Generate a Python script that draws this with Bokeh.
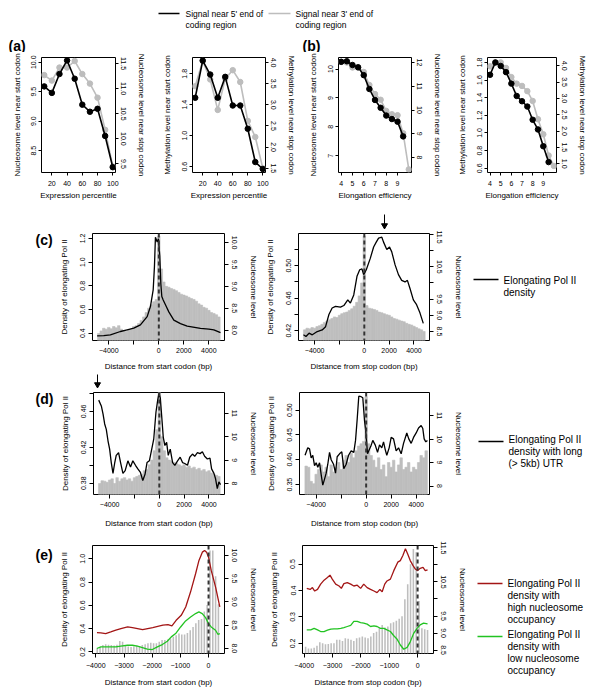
from bokeh.plotting import figure
from bokeh.models import Range1d, LinearAxis, FixedTicker, Span, Label, PrintfTickFormatter
from bokeh.layouts import column, row
from bokeh.embed import file_html
from bokeh.resources import INLINE

FONT = "Liberation Sans"
GRAY_LINE = "#bdbdbd"
BAR = "#bebebe"
RED = "#a31515"
GREEN = "#22c322"

# ---------------- data ----------------
# (a) expression percentile
expr_pct = [10, 20, 30, 40, 50, 60, 70, 80, 90, 100]
a_nuc_start = [9.59, 9.48, 9.80, 10.03, 9.72, 9.28, 9.16, 9.21, 8.75, 8.22]
a_nuc_stop = [11.27, 11.16, 11.42, 11.42, 11.55, 11.29, 11.10, 10.82, 10.18, 9.45]
a_meth_start = [1.49, 1.97, 1.79, 1.49, 1.76, 1.39, 1.39, 1.09, 0.66, 0.57]
a_meth_stop = [3.44, 4.04, 3.60, 2.88, 3.62, 3.82, 3.54, 2.62, 2.24, 1.50]

# (b) elongation efficiency
elong_eff = [4.0, 4.5, 5.0, 5.5, 6.0, 6.5, 7.0, 7.5, 8.0, 8.5, 9.0, 9.5, 10.0]
b_nuc_start = [10.25, 10.27, 10.14, 10.06, 9.79, 9.31, 8.93, 8.66, 8.39, 8.27, 8.18, 7.67]
b_nuc_stop = [12.03, 12.0, 11.79, 11.79, 11.6, 11.05, 10.67, 10.43, 9.96, 9.82, 9.78, 9.02, 7.5]
b_meth_start = [1.66, 1.80, 1.76, 1.69, 1.56, 1.42, 1.36, 1.30, 1.15, 1.04, 0.85, 0.67]
b_meth_stop = [3.98, 4.10, 4.10, 3.93, 3.65, 3.45, 3.38, 3.22, 2.92, 2.36, 1.90, 1.25, 0.93]

# nucleosome bins (c, d)
nuc_bp = list(range(-4800, 4801, 200))
c1_nuc = [7.92, 7.98, 8.04, 8.02, 8.06, 8.03, 8.08, 8.05, 8.10, 8.02, 7.98, 7.97,
          8.00, 8.02, 8.08, 8.10, 8.15, 8.22, 8.30, 8.40, 8.50, 8.58, 8.65, 8.70,
          10.15,
          9.40, 9.10, 9.00, 8.98, 8.95, 8.93, 8.90, 8.86, 8.82, 8.80, 8.78, 8.75,
          8.72, 8.70, 8.66, 8.60, 8.57, 8.52, 8.50, 8.45, 8.40, 8.38, 8.35, 8.30]
c2_nuc = [8.55, 8.60, 8.58, 8.62, 8.60, 8.65, 8.68, 8.72, 8.78, 8.82, 8.86, 8.90,
          8.95, 8.93, 9.00, 9.05, 9.08, 9.10, 9.15, 9.20, 9.28, 9.40, 9.60, 10.00,
          11.45,
          9.30, 9.22, 9.20, 9.18, 9.15, 9.10, 9.08, 9.05, 9.02, 9.00, 8.95, 8.90,
          8.88, 8.85, 8.82, 8.80, 8.75, 8.72, 8.70, 8.66, 8.62, 8.58, 8.55, 8.50]
d1_nuc = [8.00, 8.12, 8.10, 8.05, 8.15, 8.20, 8.00, 8.25, 8.10, 8.20, 8.25, 8.15,
          8.20, 8.10, 8.25, 8.30, 8.35, 8.40, 8.55, 8.60, 8.80, 9.00, 9.40, 10.30,
          11.90,
          10.00, 9.40, 9.10, 9.00, 8.95, 8.90, 8.85, 8.80, 8.75, 8.80, 8.70, 8.75,
          8.65, 8.70, 8.60, 8.65, 8.55, 8.60, 8.50, 8.55, 8.45, 8.40, 8.35, 8.30]
d2_nuc = [8.85, 8.80, 8.20, 8.10, 8.50, 8.70, 8.90, 8.60, 8.80, 8.40, 8.90, 8.60,
          8.80, 9.00, 8.70, 9.10, 9.30, 9.00, 9.40, 9.20, 9.50, 9.70, 9.80, 9.90,
          11.80,
          9.80, 9.30, 9.10, 8.80, 9.20, 8.70, 8.90, 8.40, 9.00, 8.80, 9.10, 8.60,
          8.90, 9.20, 8.70, 8.80, 9.00, 8.60, 8.80, 8.70, 9.00, 9.30, 9.20, 9.50]

# (c) elongating Pol II density
c1_pol_bp = [-4930, -4400, -3870, -3070, -2530, -2000, -1470, -930, -670, -450, -350,
             -270, -130, -30, 80, 160, 240, 350, 530, 800, 1200, 1730, 2270, 3330,
             4000, 4400, 4930]
c1_pol = [0.377, 0.379, 0.386, 0.414, 0.428, 0.442, 0.47, 0.54, 0.625, 0.766, 0.96,
          1.21, 1.17, 1.197, 1.05, 0.82, 0.71, 0.68, 0.64, 0.58, 0.51, 0.48, 0.46, 0.44,
          0.434, 0.428, 0.405]
c2_pol_bp = [-4900, -4700, -4450, -4190, -3790, -3390, -3120, -2850, -2590, -2320,
             -1920, -1650, -1330, -1120, -850, -590, -370, -190, -50, 160, 480, 750,
             960, 1150, 1410, 1550, 1810, 2030, 2210, 2480, 2750, 3010, 3280, 3470,
             3680, 3950, 4210, 4480, 4750]
c2_pol = [0.415, 0.413, 0.417, 0.415, 0.419, 0.421, 0.425, 0.440, 0.448, 0.450,
          0.449, 0.451, 0.458, 0.454, 0.464, 0.487, 0.495, 0.496, 0.489, 0.495, 0.509,
          0.523, 0.529, 0.534, 0.535, 0.529, 0.520, 0.523, 0.517, 0.501, 0.489, 0.482,
          0.480, 0.482, 0.472, 0.458, 0.452, 0.442, 0.429]

# (d) long UTR genes
d1_pol_bp = [-4880, -4670, -4530, -4400, -4270, -4130, -4000, -3870, -3730, -3600,
             -3470, -3280, -3120, -2930, -2750, -2530, -2320, -2130, -1920, -1730,
             -1520, -1330, -1150, -990, -800, -610, -450, -270, -130, -30,
             80, 190, 320, 450, 590, 720, 880, 1070, 1250, 1470,
             1680, 1870, 2050, 2270, 2450, 2670, 2850, 3070, 3280, 3470,
             3650, 3870, 4080, 4210, 4400, 4530, 4670, 4800, 4930]
d1_pol = [0.4725, 0.466, 0.457, 0.446, 0.44, 0.427, 0.418, 0.403, 0.391, 0.402,
          0.411, 0.414, 0.403, 0.391, 0.394, 0.405, 0.398, 0.405, 0.40, 0.396,
          0.392, 0.383, 0.39, 0.403, 0.405, 0.418, 0.429, 0.459, 0.4725, 0.48,
          0.475, 0.455, 0.431, 0.422, 0.4255, 0.411, 0.418, 0.403, 0.40, 0.405,
          0.409, 0.403, 0.402, 0.40, 0.409, 0.4125, 0.41, 0.414, 0.413, 0.415,
          0.41, 0.407, 0.408, 0.396, 0.391, 0.385, 0.374, 0.3815, 0.3785]
d2_pol_bp = [-4890, -4670, -4530, -4400, -4270, -4130, -4000, -3870, -3730, -3600,
             -3470, -3330, -3200, -3070, -2930, -2800, -2610, -2450, -2320, -2130,
             -1950, -1790, -1600, -1410, -1200, -990, -850, -720, -590, -400,
             -270, -130, -30, 110, 210, 370, 530, 720, 910, 1070,
             1250, 1390, 1520, 1650, 1840, 2000, 2190, 2400, 2590, 2800,
             2990, 3250, 3410, 3600, 3790, 4000, 4190, 4400, 4530, 4640, 4770, 4900]
d2_pol = [0.409, 0.424, 0.422, 0.404, 0.409, 0.388, 0.394, 0.385, 0.394, 0.370,
          0.349, 0.361, 0.373, 0.391, 0.415, 0.400, 0.391, 0.373, 0.406, 0.412,
          0.416, 0.382, 0.391, 0.409, 0.418, 0.415, 0.439, 0.481, 0.528, 0.527,
          0.525, 0.478, 0.457, 0.412, 0.418, 0.427, 0.439, 0.430, 0.415, 0.430,
          0.424, 0.436, 0.421, 0.409, 0.424, 0.445, 0.442, 0.418, 0.424, 0.412,
          0.433, 0.454, 0.442, 0.433, 0.445, 0.454, 0.464, 0.469, 0.463, 0.442, 0.436, 0.439]

# (e) high / low nucleosome occupancy
e_nuc_bp = list(range(-3950, 351, 100))
e1_nuc = [8.00, 8.03, 8.07, 8.09, 8.08, 8.07, 8.06, 8.08, 8.16, 8.14,
          8.06, 8.04, 8.03, 8.04, 8.06, 8.05, 8.07, 8.09, 8.11, 8.12,
          8.11, 8.11, 8.14, 8.18, 8.18, 8.19, 8.21, 8.25, 8.28, 8.32,
          8.30, 8.30, 8.33, 8.39, 8.46, 8.54, 8.61, 8.63, 8.79, 8.93,
          10.10, 10.10, 9.55, 8.95]
e2_nuc = [8.60, 8.55, 8.55, 8.57, 8.63, 8.73, 8.70, 8.67, 8.68, 8.70,
          8.70, 8.80, 8.80, 8.77, 8.85, 8.83, 8.80, 8.77, 8.85, 8.87,
          8.90, 8.87, 8.85, 8.90, 9.00, 9.04, 9.14, 9.24, 9.16, 9.19,
          9.29, 9.32, 9.36, 9.42, 9.49, 9.99, 10.43, 11.02, 11.47, 11.37,
          9.94, 9.14, 9.11, 9.09]
e1_high_bp = [-3960, -3820, -3650, -3470, -3290, -3110, -2870, -2700, -2520, -2340,
              -2160, -1980, -1800, -1620, -1440, -1300, -1150, -970, -810, -640,
              -460, -340, -220, -140, -70, 0, 95, 250, 400]
e1_high = [0.366, 0.363, 0.357, 0.371, 0.386, 0.400, 0.414, 0.409, 0.400, 0.391,
           0.400, 0.409, 0.420, 0.429, 0.434, 0.423, 0.471, 0.514, 0.586, 0.714,
           0.871, 0.986, 1.057, 1.071, 1.057, 1.014, 0.900, 0.757, 0.586]
e1_low_bp = [-3965, -3823, -3646, -3469, -3292, -3115, -2879, -2702, -2525, -2348,
             -2171, -1994, -1817, -1640, -1463, -1322, -1168, -991, -814, -637,
             -460, -342, -224, -106, 0, 94, 248, 330, 401]
e1_low = [0.229, 0.243, 0.243, 0.243, 0.243, 0.249, 0.257, 0.257, 0.249, 0.237,
          0.223, 0.220, 0.243, 0.263, 0.291, 0.329, 0.357, 0.414, 0.466, 0.500,
          0.529, 0.543, 0.529, 0.494, 0.443, 0.414, 0.386, 0.351, 0.357]
e2_high_bp = [-3910, -3790, -3710, -3630, -3530, -3420, -3300, -3180, -3090, -3010,
              -2890, -2770, -2690, -2600, -2480, -2360, -2250, -2130, -2010, -1900,
              -1780, -1660, -1540, -1430, -1330, -1250, -1160, -1080, -960, -840,
              -700, -610, -520, -430, -350, -260, -160, -80, 0, 90, 190, 270, 350]
e2_high = [0.408, 0.404, 0.411, 0.398, 0.404, 0.424, 0.439, 0.449, 0.458, 0.443,
           0.424, 0.417, 0.408, 0.426, 0.430, 0.424, 0.417, 0.420, 0.408, 0.424,
           0.411, 0.404, 0.398, 0.392, 0.404, 0.395, 0.424, 0.436, 0.443, 0.475,
           0.507, 0.513, 0.532, 0.558, 0.538, 0.513, 0.494, 0.481, 0.475, 0.484,
           0.487, 0.475, 0.478]
e2_low_bp = [-3910, -3770, -3650, -3530, -3420, -3300, -3180, -3060, -2950, -2830,
             -2710, -2600, -2480, -2360, -2250, -2130, -2010, -1900, -1780, -1660,
             -1540, -1430, -1310, -1190, -1080, -960, -840, -730, -610, -490,
             -370, -260, -140, -20, 90, 210, 350]
e2_low = [0.251, 0.251, 0.257, 0.251, 0.245, 0.245, 0.250, 0.254, 0.255, 0.255,
          0.257, 0.260, 0.264, 0.268, 0.283, 0.283, 0.279, 0.277, 0.273, 0.264,
          0.266, 0.264, 0.257, 0.257, 0.251, 0.245, 0.229, 0.217, 0.194, 0.178,
          0.185, 0.206, 0.238, 0.257, 0.270, 0.277, 0.274]

# tick values
a_x_ticks = [20, 40, 60, 80, 100]
b_x_ticks = [4, 5, 6, 7, 8, 9]
cd_x_ticks = [-4000, -2000, 0, 2000, 4000]
e_x_ticks = [-4000, -3000, -2000, -1000, 0]

# ---------------- helpers ----------------
def style_axis(ax, ticks, label, vertical, tout, std, lstd, overrides=None, fmt=None):
    ax.ticker = FixedTicker(ticks=ticks)
    if fmt:
        ax.formatter = PrintfTickFormatter(format=fmt)
    ax.axis_label = label
    ax.axis_label_text_font = FONT
    ax.axis_label_text_font_size = "8px"
    ax.axis_label_text_font_style = "normal"
    ax.axis_label_text_color = "black"
    ax.axis_label_standoff = lstd
    ax.major_label_text_font = FONT
    ax.major_label_text_font_size = "7px"
    ax.major_label_text_color = "black"
    ax.major_label_standoff = std
    ax.major_tick_out = tout
    ax.major_tick_in = 0
    ax.major_tick_line_color = "black"
    ax.minor_tick_out = 0
    ax.minor_tick_in = 0
    ax.minor_tick_line_color = None
    ax.axis_line_color = None
    if vertical:
        ax.major_label_orientation = "vertical"
    if overrides:
        ax.major_label_overrides = overrides


def dual(w, h, bl, br, bt, bb, xr, yl, yr):
    p = figure(width=w, height=h, x_range=Range1d(*xr), y_range=Range1d(*yl),
               title=None, output_backend="svg", toolbar_location=None,
               min_border_left=bl, min_border_right=br,
               min_border_top=bt, min_border_bottom=bb)
    p.grid.visible = False
    p.outline_line_color = "black"
    p.outline_line_width = 1
    p.outline_line_alpha = 1
    xax = p.below[0]
    lax = p.left[0]
    p.extra_y_ranges = {"r": Range1d(*yr)}
    rax = LinearAxis(y_range_name="r")
    p.add_layout(rax, "right")
    return p, xax, lax, rax


def blank(w, h, bt=0, bb=0):
    # local coordinates = pixels from the figure's top-left corner
    p = figure(width=w, height=h, x_range=Range1d(0, w), y_range=Range1d(h - bb, bt),
               title=None, x_axis_type=None, y_axis_type=None, output_backend="svg",
               toolbar_location=None, min_border_left=0, min_border_right=0,
               min_border_top=bt, min_border_bottom=bb)
    p.grid.visible = False
    p.outline_line_color = None
    return p


def put_text(p, x, ys, lines, size, bold=False):
    for y, t in zip(ys, lines):
        p.add_layout(Label(x=x, y=y, text=t, text_font=FONT, text_font_size=size,
                           text_baseline="middle", text_align="left", text_color="black",
                           text_font_style="bold" if bold else "normal"))


def scatter_panel(p, x, yl, yr):
    p.line(x[:len(yr)], yr, line_color=GRAY_LINE, line_width=1.6, y_range_name="r")
    p.scatter(x[:len(yr)], yr, size=5.5, fill_color=GRAY_LINE, line_color=GRAY_LINE,
              y_range_name="r")
    p.line(x[:len(yl)], yl, line_color="black", line_width=1.6)
    p.scatter(x[:len(yl)], yl, size=5.5, fill_color="black", line_color="black")


def profile_panel(p, bar_x, bar_top, bar_w, bottom, lines, solid=True):
    p.vbar(x=bar_x, top=bar_top, bottom=bottom, width=bar_w, fill_color=BAR,
           line_color=BAR if solid else None, line_width=0.6, y_range_name="r")
    p.add_layout(Span(location=0, dimension="height", line_color="#333333",
                      line_width=2, line_dash="4 3"))
    for xs, ys, col in lines:
        p.line(xs, ys, line_color=col, line_width=1.3)


F1, F2 = "%.1f", "%.2f"

# ---------------- header ----------------
header = blank(584, 44)
header.line([150, 171], [5, 5], line_color="black", line_width=1.5)
put_text(header, 177, [5, 16], ["Signal near 5' end of", "coding region"], "8.5px")
header.line([260, 282], [5, 5], line_color=GRAY_LINE, line_width=1.5)
put_text(header, 287, [5, 16], ["Signal near 3' end of", "coding region"], "8.5px")
put_text(header, 0, [37], ["(a)"], "14px", bold=True)
put_text(header, 294, [37], ["(b)"], "14px", bold=True)

# ---------------- row a/b (common top/bottom borders) ----------------
AB_T, AB_B = 5, 38
a1, xa, la, ra = dual(149, 158, 33, 42, AB_T, AB_B, (6.4, 103.6), (8.13, 10.08), (9.33, 11.62))
style_axis(xa, a_x_ticks, "Expression percentile", False, 3, 5, 2)
style_axis(la, [8.5, 9.0, 9.5, 10.0], "Nucleosome level near start codon", True, 3, 2, 7, fmt=F1)
style_axis(ra, [9.5, 10.0, 10.5, 11.0, 11.5], "Nucleosome level near stop codon", True, 3, 2, 8, fmt=F1)
scatter_panel(a1, expr_pct, a_nuc_start, a_nuc_stop)

a2, xa, la, ra = dual(143, 158, 35, 35, AB_T, AB_B, (6.4, 103.6), (0.525, 2.01), (1.4, 4.12))
style_axis(xa, a_x_ticks, "Expression percentile", False, 3, 5, 2)
style_axis(la, [0.6, 1.0, 1.4, 1.8], "Methylation level near start codon", True, 3, 2, 8, fmt=F1)
style_axis(ra, [1.5, 2.0, 2.5, 3.0, 3.5, 4.0], "Methylation level near stop codon", True, 3, 2, 8, fmt=F1)
scatter_panel(a2, expr_pct, a_meth_start, a_meth_stop)

b1, xa, la, ra = dual(147, 158, 38, 36, AB_T, AB_B, (3.76, 10.24), (6.42, 10.4), (7.37, 12.21))
style_axis(xa, b_x_ticks, "Elongation efficiency", False, 3, 5, 2)
style_axis(la, [7, 8, 9, 10], "Nucleosome level near start codon", True, 3, 2, 8)
style_axis(ra, [8, 9, 10, 11, 12], "Nucleosome level near stop codon", True, 3, 2, 8)
scatter_panel(b1, elong_eff, b_nuc_start, b_nuc_stop)

b2, xa, la, ra = dual(145, 158, 40, 36, AB_T, AB_B, (3.76, 10.24), (0.552, 1.856), (0.73, 4.25))
style_axis(xa, b_x_ticks, "Elongation efficiency", False, 3, 5, 2)
style_axis(la, [0.6, 0.8, 1.0, 1.2, 1.4, 1.6, 1.8], "Methylation level near start codon", True, 3, 2, 8, fmt=F1)
style_axis(ra, [1.0, 1.5, 2.0, 2.5, 3.0, 3.5, 4.0], "Methylation level near stop codon", True, 3, 2, 8, fmt=F1)
scatter_panel(b2, elong_eff, b_meth_start, b_meth_stop)

row_ab = row(a1, a2, b1, b2, spacing=0)

# ---------------- arrow strip above (c) ----------------
strip_c = blank(584, 20)
strip_c.segment(x0=[376], y0=[4], x1=[376], y1=[15], line_color="black", line_width=1)
strip_c.scatter(x=[376], y=[15], marker="inverted_triangle", size=6,
                fill_color="black", line_color="black")

# ---------------- row c ----------------
C_H, C_T, C_B = 143, 3, 32
lab_c = blank(47, C_H, C_T, C_B)
put_text(lab_c, 27, [10], ["(c)"], "14px", bold=True)

c1_yr = (7.76, 10.21)
c1, xa, la, ra = dual(207, C_H, 37, 38, C_T, C_B, (-5300, 5250), (0.338, 1.242), c1_yr)
style_axis(xa, cd_x_ticks, "Distance from start codon (bp)", False, 4, 3, 6, {-2000: ""})
style_axis(la, [0.4, 0.6, 0.8, 1.0, 1.2], "Density of elongating Pol II", True, 4, 3, 9, fmt=F1)
style_axis(ra, [8.0, 8.5, 9.0, 9.5, 10.0], "Nucleosome level", True, 4, 3, 9, fmt=F1)
profile_panel(c1, nuc_bp, c1_nuc, 200, c1_yr[0], [(c1_pol_bp, c1_pol, "black")])

c2_yr = (8.22, 11.53)
c2, xa, la, ra = dual(208, C_H, 35, 41, C_T, C_B, (-5300, 5250), (0.408, 0.5396), c2_yr)
style_axis(xa, cd_x_ticks, "Distance from stop codon (bp)", False, 4, 3, 6, {-2000: ""})
style_axis(la, [0.42, 0.44, 0.46, 0.48, 0.50, 0.52], "Density of elongating Pol II", True, 4, 3, 9,
           {0.44: "", 0.48: "", 0.52: ""}, fmt=F2)
style_axis(ra, [8.5, 9.0, 9.5, 10.0, 10.5, 11.0, 11.5], "Nucleosome level", True, 4, 3, 9,
           {10.0: "", 11.0: ""}, fmt=F1)
profile_panel(c2, nuc_bp, c2_nuc, 200, c2_yr[0], [(c2_pol_bp, c2_pol, "black")])

row_c = row(lab_c, c1, c2, spacing=0)

# ---------------- arrow strip above (d) ----------------
strip_d = blank(462, 16)
strip_d.segment(x0=[89], y0=[1], x1=[89], y1=[11], line_color="black", line_width=1)
strip_d.scatter(x=[89], y=[11], marker="inverted_triangle", size=6,
                fill_color="black", line_color="black")

# ---------------- row d ----------------
D_H, D_T, D_B = 141, 3, 32
lab_d = blank(47, D_H, D_T, D_B)
put_text(lab_d, 27, [10], ["(d)"], "14px", bold=True)

d1_yr = (7.53, 11.89)
d1, xa, la, ra = dual(207, D_H, 38, 38, D_T, D_B, (-5300, 5250), (0.3675, 0.481), d1_yr)
style_axis(xa, cd_x_ticks, "Distance from start codon (bp)", False, 4, 3, 9, {-2000: ""})
style_axis(la, [0.38, 0.40, 0.42, 0.44, 0.46, 0.48], "Density of elongating Pol II", True, 4, 3, 9,
           {0.40: "", 0.44: "", 0.48: ""}, fmt=F2)
style_axis(ra, [8, 9, 10, 11, 12], "Nucleosome level", True, 4, 3, 9)
profile_panel(d1, nuc_bp, d1_nuc, 200, d1_yr[0], [(d1_pol_bp, d1_pol, "black")])

d2_yr = (7.64, 11.98)
d2, xa, la, ra = dual(208, D_H, 37, 41, D_T, D_B, (-5333, 5067), (0.33, 0.5355), d2_yr)
style_axis(xa, cd_x_ticks, "Distance from stop codon (bp)", False, 4, 3, 9, {-2000: ""})
style_axis(la, [0.35, 0.40, 0.45, 0.50], "Density of elongating Pol II", True, 4, 3, 9, fmt=F2)
style_axis(ra, [8, 9, 10, 11], "Nucleosome level", True, 4, 3, 9)
profile_panel(d2, nuc_bp, d2_nuc, 200, d2_yr[0], [(d2_pol_bp, d2_pol, "black")])

row_d = row(lab_d, d1, d2, spacing=0)

# ---------------- row e ----------------
E_H, E_T, E_B = 160, 15, 37
lab_e = blank(47, E_H, E_T, E_B)
put_text(lab_e, 27, [24], ["(e)"], "14px", bold=True)

e1_yr = (7.89, 10.21)
e1, xa, la, ra = dual(207, E_H, 37, 38, E_T, E_B, (-4118, 566), (0.186, 1.114), e1_yr)
style_axis(xa, e_x_ticks, "Distance from start codon (bp)", False, 4, 5, 7)
style_axis(la, [0.2, 0.4, 0.6, 0.8, 1.0], "Density of elongating Pol II", True, 4, 3, 9, fmt=F1)
style_axis(ra, [8.0, 8.5, 9.0, 9.5, 10.0], "Nucleosome level", True, 4, 3, 9, fmt=F1)
profile_panel(e1, e_nuc_bp, e1_nuc, 55, e1_yr[0],
              [(e1_high_bp, e1_high, RED), (e1_low_bp, e1_low, GREEN)], solid=False)

e2_yr = (8.4, 11.57)
e2, xa, la, ra = dual(208, E_H, 40, 37, E_T, E_B, (-4060, 560), (0.162, 0.570), e2_yr)
style_axis(xa, e_x_ticks, "Distance from stop codon (bp)", False, 4, 5, 7)
style_axis(la, [0.2, 0.3, 0.4, 0.5], "Density of elongating Pol II", True, 4, 3, 9, fmt=F1)
style_axis(ra, [8.5, 9.0, 9.5, 10.0, 10.5, 11.0, 11.5], "Nucleosome level", True, 4, 3, 9,
           {10.0: "", 11.0: ""}, fmt=F1)
profile_panel(e2, e_nuc_bp, e2_nuc, 55, e2_yr[0],
              [(e2_high_bp, e2_high, RED), (e2_low_bp, e2_low, GREEN)], solid=False)

row_e = row(lab_e, e1, e2, spacing=0)

# ---------------- legends for (c), (d), (e) in one column ----------------
leg = blank(122, C_H + 16 + D_H + E_H)
leg.line([3, 28], [49, 49], line_color="black", line_width=1.5)
put_text(leg, 33, [50, 62], ["Elongating Pol II", "density"], "10px")
leg.line([8, 33], [211, 211], line_color="black", line_width=1.5)
put_text(leg, 38, [209, 221, 233], ["Elongating Pol II", "density with long", "(> 5kb) UTR"], "10px")
leg.line([7, 32], [353, 353], line_color=RED, line_width=1.5)
put_text(leg, 37, [353, 365, 377, 389],
         ["Elongating Pol II", "density with", "high nucleosome", "occupancy"], "10px")
leg.line([7, 32], [406, 406], line_color=GREEN, line_width=1.5)
put_text(leg, 37, [404, 416, 428, 440],
         ["Elongating Pol II", "density with", "low nucleosome", "occupancy"], "10px")

lower = row(column(row_c, strip_d, row_d, row_e, spacing=0), leg, spacing=0)

layout = column(header, row_ab, strip_c, lower, spacing=0, margin=(8, 0, 0, 8))

open("out.html", "w").write(file_html(layout, INLINE))
